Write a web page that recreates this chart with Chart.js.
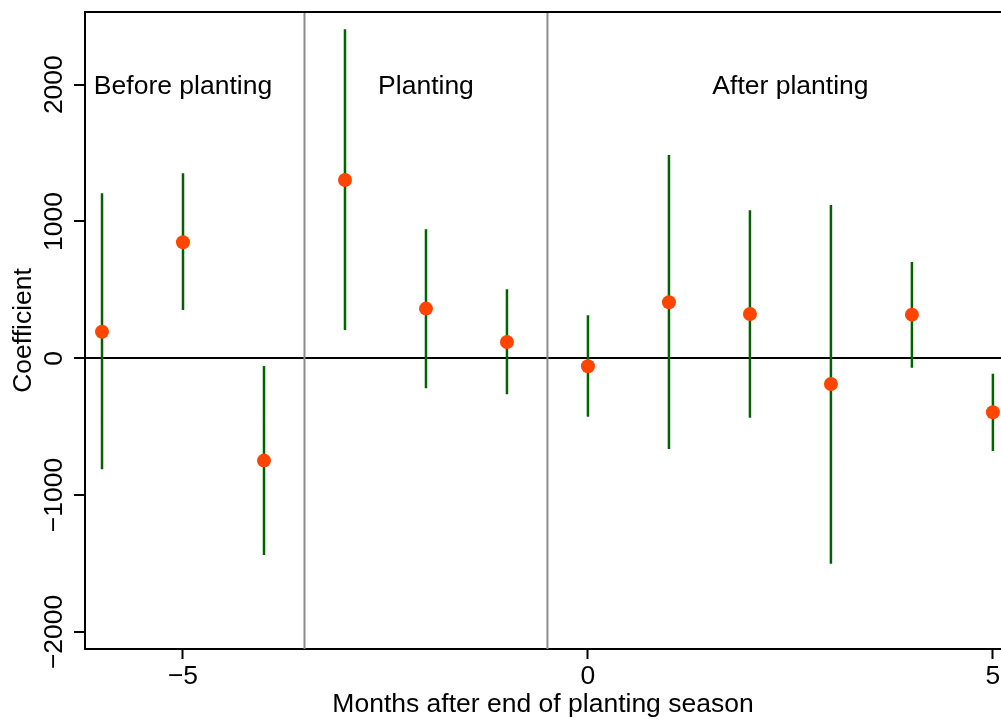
<!DOCTYPE html>
<html>
<head>
<meta charset="utf-8">
<script src="https://cdn.jsdelivr.net/npm/chart.js@4"></script>
<style>
  html, body { margin: 0; padding: 0; background: #fff; }
  #wrap { width: 1001px; height: 724px; }
</style>
</head>
<body>
<div id="wrap"><canvas id="c" width="1001" height="724"></canvas></div>
<script>
// ---- data ----
const months = [-6, -5, -4, -3, -2, -1, 0, 1, 2, 3, 4, 5];
const coef   = [194, 848, -748, 1303, 363, 119, -58, 409, 324, -188, 319, -395];
const ciLow  = [-811, 353, -1438, 207, -219, -263, -427, -663, -434, -1501, -69, -678];
const ciHigh = [1206, 1352, -56, 2405, 943, 504, 314, 1486, 1082, 1121, 704, -113];
const xTicks = [-5, 0, 5];
const yTicks = [-2000, -1000, 0, 1000, 2000];
const dividers = [-3.5, -0.5];
const sectionNames = ['Before planting', 'Planting', 'After planting'];
const sectionX = [-5, -2, 2.5];
const sectionY = 2000;
const xRange = [-6.21, 5.10];
const yRange = [-2125, 2531];

const FONT = '"Liberation Sans", Arial, Helvetica, sans-serif';
const FS = 26.5;
Chart.defaults.font.family = FONT;
Chart.defaults.color = '#000';

const minus = v => (v < 0 ? '\u2212' + Math.abs(v) : String(v));

// CI segments as one line dataset separated by gaps
const ciData = [];
months.forEach((m, i) => {
  ciData.push({x: m, y: ciLow[i]});
  ciData.push({x: m, y: ciHigh[i]});
  ciData.push({x: m, y: null});
});
const divData = [];
dividers.forEach(d => {
  divData.push({x: d, y: yRange[0]});
  divData.push({x: d, y: yRange[1]});
  divData.push({x: d, y: null});
});
const pts = months.map((m, i) => ({x: m, y: coef[i]}));

const overlay = {
  id: 'overlay',
  afterDraw(chart) {
    const {ctx, chartArea, scales} = chart;
    ctx.save();
    // top frame line
    ctx.strokeStyle = '#000';
    ctx.lineWidth = 2;
    ctx.beginPath();
    ctx.moveTo(chartArea.left - 1, chartArea.top);
    ctx.lineTo(chartArea.right, chartArea.top);
    ctx.stroke();
    ctx.fillStyle = '#000';
    ctx.font = FS + 'px ' + FONT;
    ctx.textAlign = 'center';
    ctx.textBaseline = 'alphabetic';
    // y tick labels rotated
    scales.y.ticks.forEach(t => {
      const py = scales.y.getPixelForValue(t.value);
      ctx.save();
      ctx.translate(62, py);
      ctx.rotate(-Math.PI / 2);
      ctx.fillText(minus(t.value), 0, 0);
      ctx.restore();
    });
    // x tick labels
    scales.x.ticks.forEach(t => {
      ctx.fillText(minus(t.value), scales.x.getPixelForValue(t.value), scales.x.top + 35);
    });
    // section labels
    sectionNames.forEach((s, i) => {
      ctx.fillText(s, scales.x.getPixelForValue(sectionX[i]), scales.y.getPixelForValue(sectionY) + 9);
    });
    ctx.restore();
  }
};

new Chart(document.getElementById('c'), {
  type: 'scatter',
  data: {
    datasets: [
      {
        data: divData, showLine: true, spanGaps: false,
        borderColor: '#8c8c8c', borderWidth: 2, pointRadius: 0, order: 3
      },
      {
        data: ciData, showLine: true, spanGaps: false,
        borderColor: '#006400', borderWidth: 2.5, pointRadius: 0, order: 2
      },
      {
        data: pts, showLine: false,
        pointRadius: 7, pointBackgroundColor: '#ff4500', pointBorderWidth: 0,
        pointHoverRadius: 7, order: 1
      }
    ]
  },
  options: {
    responsive: false,
    animation: false,
    events: [],
    layout: { autoPadding: false, padding: { top: 12, right: 0, bottom: 0, left: 0 } },
    plugins: { legend: { display: false }, tooltip: { enabled: false } },
    scales: {
      x: {
        type: 'linear',
        min: xRange[0], max: xRange[1],
        afterBuildTicks: s => { s.ticks = xTicks.map(v => ({value: v})); },
        afterFit: s => { s.height = 75; },
        grid: { drawOnChartArea: false, tickLength: 10, tickColor: '#000', tickWidth: 2 },
        border: { display: true, color: '#000', width: 2 },
        ticks: { display: false },
        title: {
          display: true, text: 'Months after end of planting season',
          font: { size: FS, lineHeight: 1.2 }, padding: { top: 0, bottom: 3 }
        }
      },
      y: {
        type: 'linear',
        min: yRange[0], max: yRange[1],
        afterBuildTicks: s => { s.ticks = yTicks.map(v => ({value: v})); },
        afterFit: s => { s.width = 85; },
        grid: {
          drawOnChartArea: true, tickLength: 11, tickColor: '#000', tickWidth: 2,
          color: c => (c.tick && c.tick.value === 0 ? '#000' : 'rgba(0,0,0,0)'),
          lineWidth: 2
        },
        border: { display: true, color: '#000', width: 2 },
        ticks: { display: false },
        title: {
          display: true, text: 'Coefficient',
          font: { size: FS, lineHeight: 1.2 }, padding: { top: 8, bottom: 0 }
        }
      }
    }
  },
  plugins: [overlay]
});
</script>
</body>
</html>
